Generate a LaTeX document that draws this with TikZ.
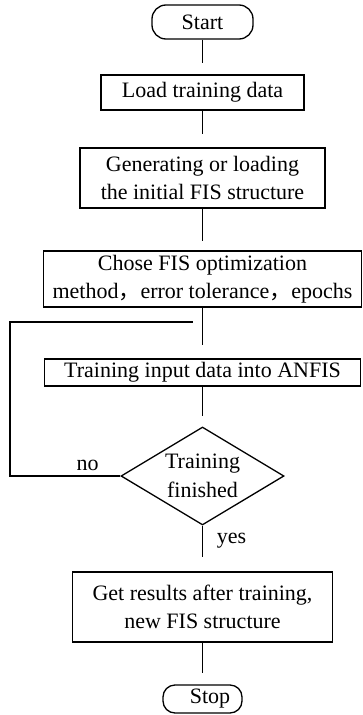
\documentclass[tikz,border=0pt]{standalone}
\usepackage{fontspec}
\setmainfont{Liberation Serif}
\newfontfamily\cjk{Noto Sans CJK SC}
\usetikzlibrary{shapes.geometric}
\begin{document}
\begin{tikzpicture}[x=1pt, y=-1pt, line width=1.3pt,
  txt/.style={font=\fontsize{22}{28.5}\selectfont},
  box/.style={draw, txt, inner sep=0pt, align=center},
  term/.style={box, rounded corners=14pt},
  decision/.style={draw, diamond, aspect=1.66, inner sep=0pt, txt, align=center,
                   minimum width=163pt, minimum height=98pt},
  link/.style={shorten >=#1}]
\useasboundingbox (0,0) rectangle (363,715);

% process steps
\node[term, minimum width=101pt, minimum height=34pt] (start) at (202.5,22) {Start};
\node[box, minimum width=203pt, minimum height=35pt] (load) at (202.5,92.5) {Load training data};
\node[box, minimum width=245pt, minimum height=60pt] (gen) at (202.5,178) {Generating or loading\\the initial FIS structure};
\node[box, minimum width=318pt, minimum height=56pt] (chose) at (202.5,279) {Chose FIS optimization\\method{\cjk ，}error tolerance{\cjk ，}epochs};
\node[box, minimum width=316pt, minimum height=27pt] (train) at (202.5,372.5) {Training input data into ANFIS};
\node[decision] (done) at (202.5,476) {Training\\finished};
\node[box, minimum width=260pt, minimum height=70pt] (res) at (202.5,607) {Get results after training,\\new FIS structure};
\node[term, rounded corners=12pt, minimum width=79pt, minimum height=28pt] (stop) at (202.5,699) {\hspace*{15pt}Stop};

% branch labels
\node[txt, inner sep=0pt] (no) at (87.5,465) {no};
\node[txt, inner sep=0pt] (yes) at (231.5,541) {yes};

% main flow
\draw[link=11pt] (start) -- (load);
\draw[link=13pt] (load) -- (gen);
\draw[link=9pt] (gen) -- (chose);
\draw[link=13pt] (chose) -- (train);
\draw[link=10pt] (train) -- (done);
\draw[link=14pt] (done) -- (res);
\draw[link=11pt] (res) -- (stop);

% loop back when training is not finished
\coordinate (corner) at (10,322);
\coordinate (joint) at (202.5,322);
\draw[link=10pt] (done.west) -| (corner) -- (joint);
\end{tikzpicture}
\end{document}
